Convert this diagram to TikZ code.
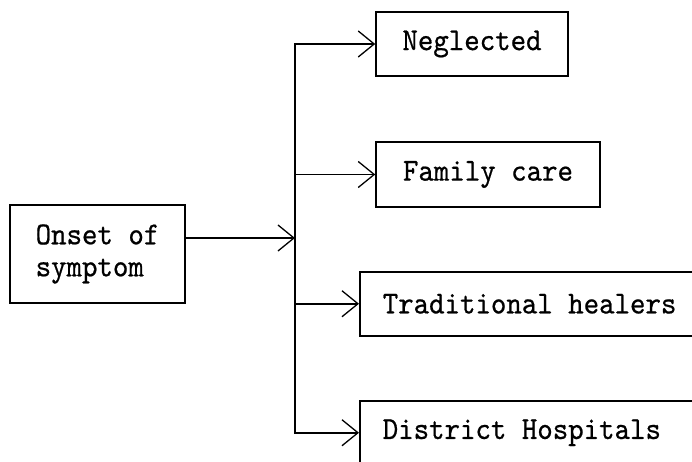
\documentclass[tikz,border=0pt]{standalone}
\usepackage{fontspec}
\newfontfamily\tw[FakeStretch=0.92,FakeBold=0.6]{lmmono10-regular.otf}
\usetikzlibrary{arrows.meta}
\tikzset{
  box/.style={draw, line width=1.5pt, inner sep=0pt, font=\tw\fontsize{32}{32}\selectfont},
  wide/.style={box, anchor=north west, minimum height=64pt, inner xsep=23pt},
  conn/.style={line width=1.5pt},
  arr/.style={conn, -{Straight Barb[length=16pt,width=26pt,line width=1.3pt]}}
}
\begin{document}
\begin{tikzpicture}[x=1pt,y=-1pt]
\clip (0,0) rectangle (692,462);
\useasboundingbox (0,0) rectangle (692,462);
\node[box, minimum width=175pt, minimum height=98pt, align=left] (onset) at (97.5,254) {Onset of\\symptom};
\node[box, minimum width=192pt, minimum height=64pt] (neg) at (472,44) {Neglected};
\node[box, minimum width=224pt, minimum height=65pt] (fam) at (488,174.5) {Family care};
\node[wide] (trad) at (359,271) {\makebox[330pt][l]{Traditional healers}};
\node[wide] (dist) at (359,400) {\makebox[330pt][l]{District Hospitals}};
\coordinate (j) at (295,238);
\draw[arr] (onset.east |- j) -- (j);
\draw[arr] (j) |- (neg.west);
\draw[arr] (j) |- (fam.west);
\draw[arr] (j) |- (trad.west);
\draw[arr] (j) |- (dist.west);
\end{tikzpicture}
\end{document}
